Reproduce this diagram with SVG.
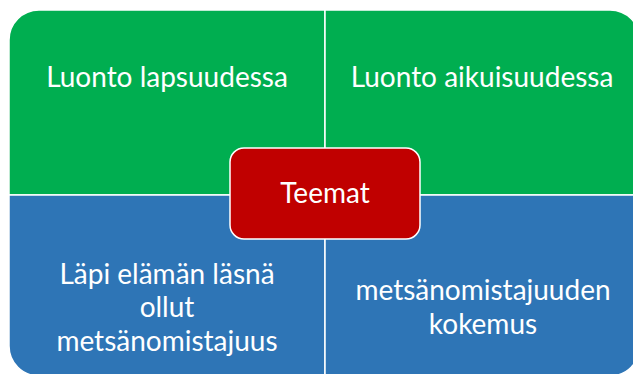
<svg xmlns="http://www.w3.org/2000/svg" width="633" height="374" viewBox="0 0 633 374">
<style>
.g{fill:#00AE50;stroke:#FFFFFF;stroke-width:1.5}
.b{fill:#2E75B6;stroke:#FFFFFF;stroke-width:1.5}
.r{fill:#C00000;stroke:#FFFFFF;stroke-width:1.5}
text{font-family:Lato,"Liberation Sans",sans-serif;font-size:28px;fill:#FFFFFF;text-anchor:middle}
</style>
<rect width="633" height="374" fill="#FFFFFF"/>
<g id="node-tl">
<path class="g" d="M9,195 V40 A30,30 0 0 1 39,10 H325 V195 Z"/>
<text x="167" y="87">Luonto lapsuudessa</text>
</g>
<g id="node-tr">
<path class="g" d="M325,10 H610 A30,30 0 0 1 640,40 V195 H325 Z"/>
<text x="482" y="87">Luonto aikuisuudessa</text>
</g>
<g id="node-bl">
<path class="b" d="M9,195 H325 V376 H39 A30,30 0 0 1 9,346 Z"/>
<text x="167" y="284">Läpi elämän läsnä</text>
<text x="167" y="317">ollut</text>
<text x="167" y="351">metsänomistajuus</text>
</g>
<g id="node-br">
<path class="b" d="M325,195 H640 V346 A30,30 0 0 1 610,376 H325 Z"/>
<text x="483" y="300">metsänomistajuuden</text>
<text x="483" y="334">kokemus</text>
</g>
<g id="connectors"></g>
<g id="node-center">
<rect class="r" x="230" y="148" width="190" height="91" rx="14"/>
<text x="325" y="203">Teemat</text>
</g>
</svg>
